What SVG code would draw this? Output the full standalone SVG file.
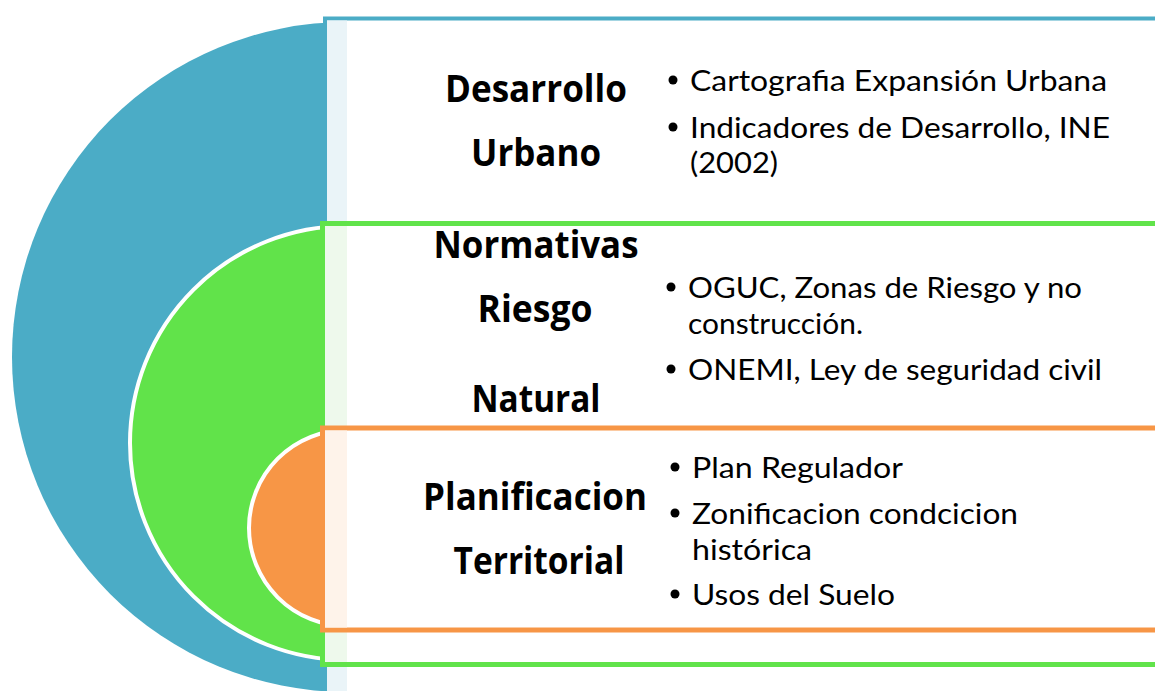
<svg xmlns="http://www.w3.org/2000/svg" width="1155" height="691" viewBox="0 0 1155 691">
<style>
.lbl{font-family:"Open Sans","Liberation Sans",sans-serif;font-weight:700;font-size:38px;fill:#000;text-anchor:middle}
.itm{font-family:Lato,"Liberation Sans",sans-serif;font-size:29px;fill:#000}
.dot{fill:#000}
</style>
<rect width="1155" height="691" fill="#fff"/>
<g id="level-blue">
  <circle cx="347" cy="357" r="335" fill="#4BACC6"/>
  <rect x="325" y="18.5" width="900" height="720" fill="#fff" stroke="#4BACC6" stroke-width="4"/>
  <rect x="327" y="20.5" width="20" height="671" fill="#EAF4F8"/>
  <text class="lbl" x="536" y="102" textLength="182" lengthAdjust="spacingAndGlyphs">Desarrollo</text>
  <text class="lbl" x="536" y="166" textLength="130" lengthAdjust="spacingAndGlyphs">Urbano</text>
  <circle class="dot" cx="673" cy="80" r="4.5"/>
  <text class="itm" x="690" y="91" textLength="417" lengthAdjust="spacingAndGlyphs">Cartografia Expansión Urbana</text>
  <circle class="dot" cx="673" cy="127" r="4.5"/>
  <text class="itm"><tspan x="690" y="138" textLength="420" lengthAdjust="spacingAndGlyphs">Indicadores de Desarrollo, INE</tspan><tspan x="690" y="173" textLength="88" lengthAdjust="spacingAndGlyphs">(2002)</tspan></text>
</g>
<g id="level-green">
  <circle cx="347" cy="443" r="217" fill="#61E34A" stroke="#fff" stroke-width="4"/>
  <rect x="322.5" y="223.5" width="900" height="441" fill="#fff" stroke="#61E34A" stroke-width="5"/>
  <rect x="325" y="226" width="22" height="436" fill="#EEF9EC"/>
  <text class="lbl" x="536" y="258" textLength="205" lengthAdjust="spacingAndGlyphs">Normativas</text>
  <text class="lbl" x="535" y="322" textLength="115" lengthAdjust="spacingAndGlyphs">Riesgo</text>
  <text class="lbl" x="536" y="412" textLength="129" lengthAdjust="spacingAndGlyphs">Natural</text>
  <circle class="dot" cx="671" cy="287" r="4.5"/>
  <text class="itm"><tspan x="688" y="298" textLength="394" lengthAdjust="spacingAndGlyphs">OGUC, Zonas de Riesgo y no</tspan><tspan x="688" y="334" textLength="175" lengthAdjust="spacingAndGlyphs">construcción.</tspan></text>
  <circle class="dot" cx="671" cy="369" r="4.5"/>
  <text class="itm" x="688" y="380" textLength="414" lengthAdjust="spacingAndGlyphs">ONEMI, Ley de seguridad civil</text>
</g>
<g id="level-orange">
  <circle cx="347" cy="528" r="98" fill="#F79646" stroke="#fff" stroke-width="4"/>
  <rect x="322.5" y="428" width="900" height="202" fill="#fff" stroke="#F79646" stroke-width="5"/>
  <rect x="325" y="430.5" width="22" height="197" fill="#FEF3EA"/>
  <text class="lbl" x="535" y="510" textLength="224" lengthAdjust="spacingAndGlyphs">Planificacion</text>
  <text class="lbl" x="539" y="574" textLength="171" lengthAdjust="spacingAndGlyphs">Territorial</text>
  <circle class="dot" cx="675" cy="467" r="4.5"/>
  <text class="itm" x="692" y="478" textLength="211" lengthAdjust="spacingAndGlyphs">Plan Regulador</text>
  <circle class="dot" cx="675" cy="513" r="4.5"/>
  <text class="itm"><tspan x="692" y="524" textLength="326" lengthAdjust="spacingAndGlyphs">Zonificacion condcicion</tspan><tspan x="692" y="560" textLength="120" lengthAdjust="spacingAndGlyphs">histórica</tspan></text>
  <circle class="dot" cx="675" cy="594" r="4.5"/>
  <text class="itm" x="692" y="605" textLength="203" lengthAdjust="spacingAndGlyphs">Usos del Suelo</text>
</g>
<g id="connectors"/>
</svg>
